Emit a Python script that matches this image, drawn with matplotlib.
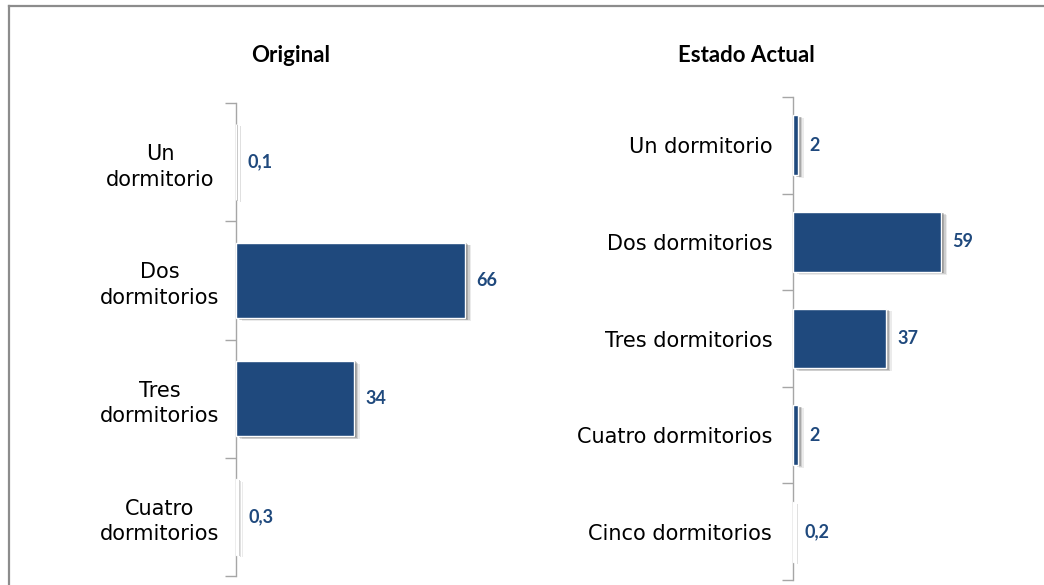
import matplotlib
matplotlib.use("Agg")
import matplotlib.pyplot as plt
import matplotlib.patheffects as pe
import matplotlib.transforms as mtransforms
from matplotlib.lines import Line2D

# ---- data ----
orig_categories = ["Un\ndormitorio", "Dos\ndormitorios", "Tres\ndormitorios", "Cuatro\ndormitorios"]
orig_values = [0.1, 66, 34, 0.3]
orig_labels = ["0,1", "66", "34", "0,3"]

act_categories = ["Un dormitorio", "Dos dormitorios", "Tres dormitorios",
                  "Cuatro dormitorios", "Cinco dormitorios"]
act_values = [2, 59, 37, 2, 0.2]
act_labels = ["2", "59", "37", "2", "0,2"]

titles = ["Original", "Estado Actual"]

BAR = "#1F497D"
SPINE = "#A6A6A6"
W, H = 1044, 585

fig = plt.figure(figsize=(W / 100, H / 100), dpi=100)
fig.patch.set_facecolor("white")

# outer border (gray, top and left)
fig.add_artist(Line2D([8.5 / W, 8.5 / W], [0, 1 - 6 / H], transform=fig.transFigure,
                      color="#8C8C8C", lw=1.6))
fig.add_artist(Line2D([8.5 / W, 1], [1 - 6 / H, 1 - 6 / H], transform=fig.transFigure,
                      color="#8C8C8C", lw=1.6))

shadow = [pe.SimplePatchShadow(offset=(4, -2), shadow_rgbFace="#000000", alpha=0.08),
          pe.SimplePatchShadow(offset=(3, -1.5), shadow_rgbFace="#000000", alpha=0.12),
          pe.SimplePatchShadow(offset=(2, -1), shadow_rgbFace="#000000", alpha=0.18),
          pe.SimplePatchShadow(offset=(1, -0.5), shadow_rgbFace="#000000", alpha=0.2),
          pe.Normal()]


def panel(rect, cats, vals, labs, xmax, width, title, title_x, lab_fs, pad):
    ax = fig.add_axes(rect)
    n = len(cats)
    pos = list(range(n))
    bars = ax.barh(pos, vals, height=width, color=BAR, edgecolor="white", linewidth=1.0,
                   zorder=3)
    for b in bars:
        b.set_path_effects(shadow)
    ax.set_ylim(n - 0.5, -0.5)
    ax.set_xlim(0, xmax)
    for s in ["top", "right", "bottom"]:
        ax.spines[s].set_visible(False)
    ax.spines["left"].set_color(SPINE)
    ax.spines["left"].set_linewidth(1.0)
    ax.set_xticks([])
    ax.set_yticks([i - 0.5 for i in range(n + 1)])
    ax.set_yticklabels([])
    ax.tick_params(axis="y", which="major", length=8, color=SPINE, width=1.0, direction="out")
    ax.set_yticks(pos, minor=True)
    ax.set_yticklabels(cats, minor=True, fontsize=lab_fs, color="#000000",
                       fontfamily="DejaVu Sans", linespacing=1.35)
    ax.tick_params(axis="y", which="minor", length=0, pad=pad)
    for p, v, l in zip(pos, vals, labs):
        ax.annotate(l, (v, p), xytext=(11, 0), textcoords="offset pixels",
                    ha="left", va="center", fontsize=13, fontweight="bold", color=BAR,
                    fontfamily="Lato")
    fig.text(title_x / W, 1 - 55 / H, title, ha="center", va="center", fontsize=16,
             fontweight="bold", fontfamily="Lato", color="black")
    return ax


ax1 = panel([236 / W, 9 / H, 278 / W, 473 / H], orig_categories, orig_values, orig_labels,
            80, 0.64, titles[0], 291, 15, 15)
ax2 = panel([793 / W, 5 / H, 176 / W, 483 / H], act_categories, act_values, act_labels,
            70, 0.62, titles[1], 746, 15, 15)

# center-align the multi-line labels of the left panel around x=160 px
for t in ax1.get_yticklabels(minor=True):
    t.set_horizontalalignment("center")
    t.set_multialignment("center")
    t.set_transform(mtransforms.blended_transform_factory(fig.transFigure, ax1.transData))
    t.set_x(160 / W)

fig.savefig("out.png", dpi=100, facecolor="white")
